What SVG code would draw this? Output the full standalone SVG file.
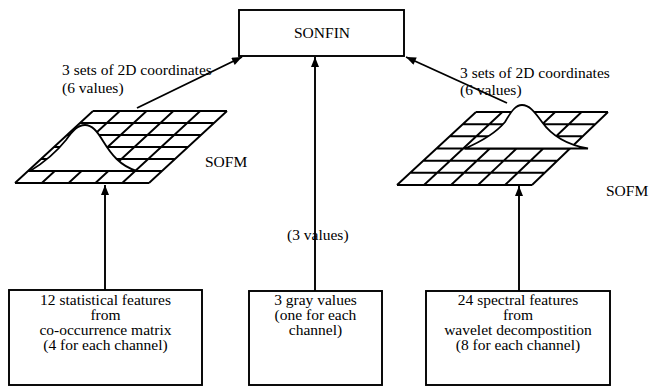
<svg xmlns="http://www.w3.org/2000/svg" width="649" height="387" viewBox="0 0 649 387">
<style>
text{font-family:"Liberation Serif","DejaVu Serif","Times New Roman",serif;font-size:15.5px;fill:#000}
.box{fill:#fff;stroke:#000;stroke-width:1.9}
.grid{fill:none;stroke:#000;stroke-width:1.9}
.bump{fill:#fff;stroke:#000;stroke-width:1.8}
.conn{fill:none;stroke:#000;stroke-width:1.9}
.c{text-anchor:middle}
</style>
<defs>
<marker id="ah" viewBox="0 0 10 8" refX="10" refY="4" markerWidth="11" markerHeight="8" markerUnits="userSpaceOnUse" orient="auto">
<path d="M0,0L10,4L0,8Z" fill="#000"/>
</marker>
</defs>
<rect width="649" height="387" fill="#fff"/>
<g id="sonfin">
<rect class="box" x="239" y="10" width="165" height="46"/>
<text class="c" x="322" y="38">SONFIN</text>
</g>
<g id="sofm-left">
<path class="grid" d="M93,111H227M80,123H214M67,135H201M54,147H188M41,159H175M28,171H162M15,183H149M93,111L15,183M119.8,111L41.8,183M146.6,111L68.6,183M173.4,111L95.4,183M200.2,111L122.2,183M227,111L149,183"/>
<path class="bump" d="M30,171C45,162 58,150 66,140C73,130 78,125 85,125C92,125 97,131 103,141C111,154 120,166 137,171Z"/>
<text x="205" y="167">SOFM</text>
</g>
<g id="sofm-right">
<path class="grid" d="M476,112H608M462.8,124.2H595.3M449.7,136.3H582.7M436.5,148.5H570M423.3,160.7H557.3M410.2,172.8H544.7M397,185H532M476,112L397,185M502.4,112L424,185M528.8,112L451,185M555.2,112L478,185M581.6,112L505,185M608,112L532,185"/>
<path class="bump" d="M465,148.5C480,142 495,134 505,122C512,110 516,105 522,105C529,105 534,111 542,122C552,136 568,145 588,148.5Z"/>
<text x="606" y="196">SOFM</text>
</g>
<g id="box-stat">
<rect class="box" x="9" y="290" width="193" height="95"/>
<text class="c" x="105.5" y="305">12 statistical features</text>
<text class="c" x="105.5" y="320">from</text>
<text class="c" x="105.5" y="335">co-occurrence matrix</text>
<text class="c" x="105.5" y="350">(4 for each channel)</text>
</g>
<g id="box-gray">
<rect class="box" x="249" y="291" width="133" height="94"/>
<text class="c" x="315.5" y="305">3 gray values</text>
<text class="c" x="315.5" y="320">(one for each</text>
<text class="c" x="315.5" y="335">channel)</text>
</g>
<g id="box-spec">
<rect class="box" x="426" y="291" width="184" height="94"/>
<text class="c" x="518" y="305">24 spectral features</text>
<text class="c" x="518" y="320">from</text>
<text class="c" x="518" y="335">wavelet decompostition</text>
<text class="c" x="518" y="350">(8 for each channel)</text>
</g>
<g id="connectors">
<line class="conn" x1="137" y1="108" x2="242" y2="57" marker-end="url(#ah)"/>
<line class="conn" x1="507" y1="103" x2="406" y2="57" marker-end="url(#ah)"/>
<line class="conn" x1="315" y1="291" x2="315" y2="57" marker-end="url(#ah)"/>
<line class="conn" x1="105" y1="290" x2="105" y2="185" marker-end="url(#ah)"/>
<line class="conn" x1="519" y1="291" x2="519" y2="186" marker-end="url(#ah)"/>
</g>
<g id="labels">
<text x="62" y="75">3 sets of 2D coordinates</text>
<text x="62" y="93">(6 values)</text>
<text x="460" y="78">3 sets of 2D coordinates</text>
<text x="460" y="95">(6 values)</text>
<text x="287" y="240">(3 values)</text>
</g>
</svg>
